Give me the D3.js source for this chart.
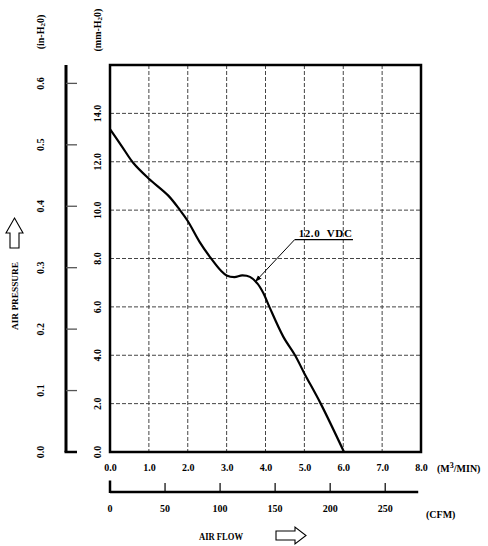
<!DOCTYPE html>
<html lang="en">
<head>
  <meta charset="UTF-8">
  <title>Air Flow vs Air Pressure</title>
  <script src="https://d3js.org/d3.v7.min.js"></script>
  <style>
    body { margin: 0; background: #fff; }
    text {
      font-family: "Liberation Serif", "Times New Roman", serif;
      font-weight: bold;
      fill: #000;
    }
    .grid {
      stroke: #444;
      stroke-width: 1;
      stroke-dasharray: 4 2;
    }
  </style>
</head>
<body>
  <svg width="488" height="546"></svg>

  <script>
    // Chart data (flow in M3/MIN, static pressure in mm-H2O)
    const flowM3 = [0.0, 0.3, 0.6, 1.0, 1.5, 1.8, 2.0, 2.3, 2.6, 2.85, 3.0, 3.2, 3.4, 3.6, 3.8, 3.95, 4.1, 4.46, 4.76, 5.0, 5.42, 6.02];
    const pressMm = [13.35, 12.65, 11.95, 11.3, 10.6, 10.0, 9.55, 8.7, 8.0, 7.5, 7.3, 7.23, 7.3, 7.24, 6.95, 6.55, 6.0, 4.76, 4.0, 3.25, 2.0, 0.0];
    const curveLabel = "12.0  VDC";

    // Tick values
    const xTicks = [0, 1, 2, 3, 4, 5, 6, 7, 8];
    const mmTicks = [0, 2, 4, 6, 8, 10, 12, 14];
    const inTicks = [0, 0.1, 0.2, 0.3, 0.4, 0.5, 0.6];
    const cfmTicks = [0, 50, 100, 150, 200, 250];

    const svg = d3.select("svg");
    const fmt = d3.format(".1f");

    // Plot frame
    const pLeft = 110, pRight = 421, pTop = 65, pBottom = 452;

    const x = d3.scaleLinear().domain([0, 8]).range([pLeft, pRight]);
    const y = d3.scaleLinear().domain([0, 16]).range([pBottom, pTop]);
    // inch-H2O scale shares the mm one (1 in = 25.4 mm)
    const yIn = d3.scaleLinear().domain([0, 16 / 25.4]).range([pBottom, pTop]);
    // CFM scale shares the M3/MIN one (1 CFM = 0.0283168 M3/MIN)
    const cfm = d3.scaleLinear().domain([0, 8 / 0.0283168]).range([pLeft, pRight]);

    // Grid lines
    svg.append("g").selectAll("line")
      .data(xTicks.slice(1, -1))
      .enter().append("line")
      .attr("class", "grid")
      .attr("x1", d => x(d)).attr("x2", d => x(d))
      .attr("y1", pTop).attr("y2", pBottom);

    svg.append("g").selectAll("line")
      .data(mmTicks.slice(1))
      .enter().append("line")
      .attr("class", "grid")
      .attr("x1", pLeft).attr("x2", pRight)
      .attr("y1", d => y(d)).attr("y2", d => y(d));

    // Frame
    svg.append("rect")
      .attr("x", pLeft).attr("y", pTop)
      .attr("width", pRight - pLeft).attr("height", pBottom - pTop)
      .attr("fill", "none").attr("stroke", "#000").attr("stroke-width", 2.5);

    // Curve
    const pts = flowM3.map((f, i) => [f, pressMm[i]]);
    const line = d3.line()
      .x(d => x(d[0]))
      .y(d => y(d[1]))
      .curve(d3.curveCatmullRom.alpha(0.5));

    svg.append("path")
      .datum(pts)
      .attr("d", line)
      .attr("fill", "none")
      .attr("stroke", "#000")
      .attr("stroke-width", 2.2);

    // Callout for the curve
    svg.append("defs").append("marker")
      .attr("id", "tip")
      .attr("viewBox", "0 0 10 10")
      .attr("refX", 10).attr("refY", 5)
      .attr("markerWidth", 7).attr("markerHeight", 7)
      .attr("orient", "auto")
      .append("path").attr("d", "M0,1.5L10,5L0,8.5Z").attr("fill", "#000");

    const tipPt = [3.73, 7.03], elbow = [4.75, 8.78], lineEnd = [6.25, 8.78];
    svg.append("line")
      .attr("x1", x(elbow[0])).attr("y1", y(elbow[1]))
      .attr("x2", x(tipPt[0])).attr("y2", y(tipPt[1]))
      .attr("stroke", "#000").attr("stroke-width", 1)
      .attr("marker-end", "url(#tip)");
    svg.append("line")
      .attr("x1", x(elbow[0])).attr("y1", y(elbow[1]))
      .attr("x2", x(lineEnd[0])).attr("y2", y(lineEnd[1]))
      .attr("stroke", "#000").attr("stroke-width", 1.2);
    svg.append("text")
      .attr("x", x(elbow[0]) + 4).attr("y", y(elbow[1]) - 2.5)
      .attr("font-size", 11)
      .attr("letter-spacing", 0.6)
      .style("white-space", "pre")
      .text(curveLabel);

    // X labels (M3/MIN)
    const xAxis = svg.append("g")
      .attr("transform", `translate(0,${pBottom})`)
      .call(d3.axisBottom(x).tickValues(xTicks).tickFormat(fmt).tickSize(0).tickPadding(12));
    xAxis.select(".domain").remove();
    xAxis.selectAll("text")
      .attr("font-size", 10)
      .attr("font-family", "Liberation Serif")
      .attr("fill", "#000");

    const m3 = svg.append("text")
      .attr("x", 437).attr("y", 472)
      .attr("font-size", 10);
    m3.append("tspan").text("(M");
    m3.append("tspan").attr("dy", -4).attr("font-size", 8).text("3");
    m3.append("tspan").attr("dy", 4).text("/MIN)");

    // mm-H2O labels, rotated
    svg.append("g").selectAll("text")
      .data(mmTicks)
      .enter().append("text")
      .attr("transform", d => `translate(97,${y(d)}) rotate(-90)`)
      .attr("text-anchor", "middle")
      .attr("dominant-baseline", "central")
      .attr("font-size", 10)
      .text(d => fmt(d));

    // inch-H2O axis
    svg.append("line")
      .attr("x1", 66).attr("x2", 66)
      .attr("y1", pTop).attr("y2", pBottom)
      .attr("stroke", "#000").attr("stroke-width", 3);
    svg.append("line")
      .attr("x1", 64.5).attr("x2", 77)
      .attr("y1", pBottom).attr("y2", pBottom)
      .attr("stroke", "#000").attr("stroke-width", 2.5);
    svg.append("g").selectAll("line")
      .data(inTicks.slice(1))
      .enter().append("line")
      .attr("x1", 66).attr("x2", 77)
      .attr("y1", d => yIn(d)).attr("y2", d => yIn(d))
      .attr("stroke", "#555").attr("stroke-width", 1.3);
    svg.append("g").selectAll("text")
      .data(inTicks)
      .enter().append("text")
      .attr("transform", d => `translate(40,${yIn(d)}) rotate(-90)`)
      .attr("text-anchor", "middle")
      .attr("dominant-baseline", "central")
      .attr("font-size", 10)
      .text(d => fmt(d));

    // Unit titles
    function subTitle(cx, cy, pre) {
      const t = svg.append("text")
        .attr("transform", `translate(${cx},${cy}) rotate(-90)`)
        .attr("text-anchor", "middle")
        .attr("dominant-baseline", "central")
        .attr("font-size", 10);
      t.append("tspan").text(pre + "-H");
      t.append("tspan").attr("dy", 3).attr("font-size", 7).text("2");
      t.append("tspan").attr("dy", -3).text("0)");
    }
    subTitle(40, 32, "(in");
    subTitle(97, 30, "(mm");

    // AIR PRESSURE title and arrow
    svg.append("text")
      .attr("transform", "translate(15,296) rotate(-90)")
      .attr("text-anchor", "middle")
      .attr("dominant-baseline", "central")
      .attr("font-size", 9)
      .attr("textLength", 68)
      .attr("lengthAdjust", "spacingAndGlyphs")
      .text("AIR PRESSURE");
    svg.append("path")
      .attr("d", "M14.5,218L23,233L19,233L19,248L10,248L10,233L6,233Z")
      .attr("fill", "#fff").attr("stroke", "#000").attr("stroke-width", 1.1);

    // CFM axis
    const cfmMax = 280;
    svg.append("line")
      .attr("x1", pLeft).attr("x2", cfm(cfmMax))
      .attr("y1", 492).attr("y2", 492)
      .attr("stroke", "#000").attr("stroke-width", 2.5);
    svg.append("line")
      .attr("x1", pLeft).attr("x2", pLeft)
      .attr("y1", 480.5).attr("y2", 493)
      .attr("stroke", "#000").attr("stroke-width", 2.5);
    svg.append("g").selectAll("line")
      .data(cfmTicks.slice(1))
      .enter().append("line")
      .attr("x1", d => cfm(d)).attr("x2", d => cfm(d))
      .attr("y1", 483).attr("y2", 492)
      .attr("stroke", "#000").attr("stroke-width", 1.2);
    svg.append("g").selectAll("text")
      .data(cfmTicks)
      .enter().append("text")
      .attr("x", d => cfm(d)).attr("y", 512)
      .attr("text-anchor", "middle")
      .attr("font-size", 10)
      .text(d => d);
    svg.append("text")
      .attr("x", 426).attr("y", 518)
      .attr("font-size", 10)
      .text("(CFM)");

    // AIR FLOW title and arrow
    svg.append("text")
      .attr("x", 199).attr("y", 539.5)
      .attr("font-size", 10)
      .attr("textLength", 44)
      .attr("lengthAdjust", "spacingAndGlyphs")
      .text("AIR FLOW");
    svg.append("path")
      .attr("d", "M276,531L295,531L295,527L306,535.5L295,544L295,540L276,540Z")
      .attr("fill", "#fff").attr("stroke", "#000").attr("stroke-width", 1.1);
  </script>
</body>
</html>
